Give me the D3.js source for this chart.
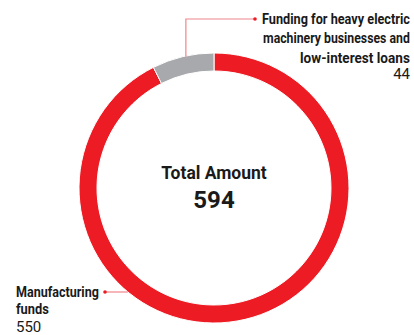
<!DOCTYPE html>
<html><head><meta charset="utf-8">
<script src="https://cdn.jsdelivr.net/npm/d3@7"></script>
<style>
html,body{margin:0;padding:0;background:#fff;}
svg{display:block;font-family:Roboto, "Noto Sans", sans-serif;}
</style></head>
<body><svg id="c" width="414" height="335"></svg>
<script>
const categories = ["Manufacturing funds", "Funding for heavy electric machinery businesses and low-interest loans"];
const values = [550, 44];
const colors = ["#ed1c24", "#a7a9ac"];
const totalLabel = "Total Amount";
const total = d3.sum(values);

const svg = d3.select("#c");
const cx = 214, cy = 188, rOuter = 135, rInner = 117;

const pie = d3.pie().sort(null).value(d => d)(values);
const arc = d3.arc().innerRadius(rInner).outerRadius(rOuter);

svg.append("g").attr("transform", `translate(${cx},${cy})`)
  .selectAll("path").data(pie).join("path")
  .attr("d", arc)
  .attr("fill", (d, i) => colors[i])
  .attr("stroke", "#fff").attr("stroke-width", 1);

// text squeezed horizontally to a target width (condensed look)
function condText(t, x, y, width, size, weight, anchor) {
  const el = svg.append("text").attr("font-size", size).attr("font-weight", weight)
    .attr("fill", "#1a1a1a").text(t);
  const w = el.node().getComputedTextLength();
  const s = Math.min(1, width / w);
  const left = anchor === "end" ? x - w * s : anchor === "middle" ? x - w * s / 2 : x;
  el.attr("transform", `translate(${left},${y}) scale(${s},1)`);
  return el;
}

condText(totalLabel, cx, cy - 9, 107, 17.5, 700, "middle");
condText(d3.format(",")(total), cx, cy + 20, 44, 24, 700, "middle");

const leader = "#f0868b";
const pt = (ang, r) => [cx + r * Math.sin(ang), cy - r * Math.cos(ang)];

// callout for small segment (gray)
{
  const d = pie[1];
  const mid = (d.startAngle + d.endAngle) / 2;
  const [x0, y0] = pt(mid, rOuter);
  const yTop = 19, xEnd = 255;
  svg.append("path").attr("d", `M${x0 + 3},${y0}V${yTop}H${xEnd}`)
    .attr("fill", "none").attr("stroke", leader).attr("stroke-width", 1.2);
  svg.append("circle").attr("cx", xEnd).attr("cy", yTop).attr("r", 1.8).attr("fill", "#ed1c24");
  const lines = ["Funding for heavy electric", "machinery businesses and", "low-interest loans"];
  const widths = [148, 147, 110];
  lines.forEach((t, i) => condText(t, 410, 24 + i * 19.3, widths[i], 14.5, 700, "end"));
  svg.append("text").attr("x", 410).attr("y", 79).attr("text-anchor", "end")
    .attr("font-size", 15).attr("fill", "#1a1a1a").text(values[1]);
}

// callout for large segment (red)
{
  const yL = 292;
  const dy = yL - cy;
  const x1 = cx - Math.sqrt(rOuter * rOuter - dy * dy);
  const xStart = 105;
  svg.append("path").attr("d", `M${xStart},${yL}H${x1}`)
    .attr("fill", "none").attr("stroke", leader).attr("stroke-width", 1.2);
  svg.append("circle").attr("cx", xStart).attr("cy", yL).attr("r", 1.8).attr("fill", "#ed1c24");
  const lines = ["Manufacturing", "funds"];
  const widths = [83, 33];
  lines.forEach((t, i) => condText(t, 16, 297 + i * 17, widths[i], 14.5, 700, "start"));
  svg.append("text").attr("x", 16).attr("y", 332)
    .attr("font-size", 15).attr("fill", "#1a1a1a").text(values[0]);
}
</script></body></html>
